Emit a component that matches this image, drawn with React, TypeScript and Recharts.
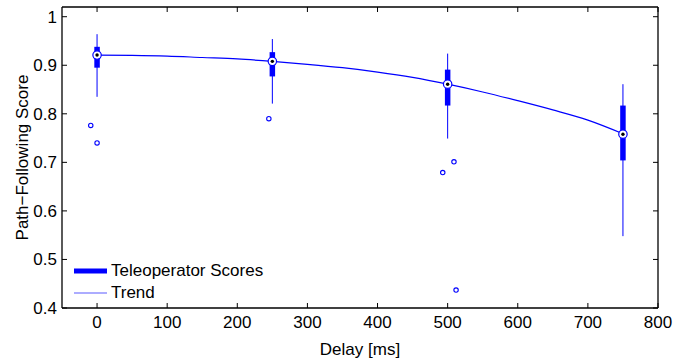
import React from 'react';
import {
  ComposedChart,
  XAxis,
  YAxis,
  Line,
  Scatter,
  ReferenceLine,
  Legend,
} from 'recharts';

// ---- data ----
const delays = [0, 250, 500, 750];
const whiskerLow = [0.835, 0.821, 0.749, 0.548];
const q1 = [0.895, 0.877, 0.817, 0.704];
const medians = [0.921, 0.908, 0.861, 0.758];
const q3 = [0.938, 0.927, 0.891, 0.817];
const whiskerHigh = [0.964, 0.954, 0.924, 0.861];

const outlierX = [-9, 0, 245, 493, 509, 512];
const outlierY = [0.776, 0.74, 0.79, 0.679, 0.701, 0.437];

const trendX = [0, 50, 100, 150, 200, 250, 300, 350, 400, 450, 500, 550, 600, 650, 700, 750];
const trendY = [0.921, 0.9205, 0.919, 0.916, 0.913, 0.908, 0.902, 0.895, 0.886, 0.875, 0.861, 0.845, 0.827, 0.808, 0.787, 0.759];

const xTicks = [0, 100, 200, 300, 400, 500, 600, 700, 800];
const yTicks = [0.4, 0.5, 0.6, 0.7, 0.8, 0.9, 1];
const legendLabels = ['Teleoperator Scores', 'Trend'];

const xLabel = 'Delay [ms]';
const yLabel = 'Path\u2212Following Score';

// ---- derived tables ----
const trendData = trendX.map((x, i) => ({ x, y: trendY[i] }));
const medianData = delays.map((x, i) => ({ x, y: medians[i] }));
const outlierData = outlierX.map((x, i) => ({ x, y: outlierY[i] }));

const BLUE = '#0000ff';
const FONT = '"Liberation Sans", Arial, Helvetica, sans-serif';
const FS = 17;
const tickStyle = { fontFamily: FONT, fontSize: FS, fill: '#000' };

const MedianShape = (props: any) => {
  const { cx, cy } = props;
  if (cx == null || cy == null) return null;
  return (
    <g>
      <circle cx={cx} cy={cy} r={4.2} fill="#fff" stroke={BLUE} strokeWidth={1.2} />
      <circle cx={cx} cy={cy} r={1.7} fill="#000" />
    </g>
  );
};

const OutlierShape = (props: any) => {
  const { cx, cy } = props;
  if (cx == null || cy == null) return null;
  return <circle cx={cx} cy={cy} r={2.2} fill="#fff" stroke={BLUE} strokeWidth={1.1} />;
};

const LegendContent = () => (
  <div style={{ fontFamily: FONT, fontSize: FS, color: '#000', lineHeight: '22px' }}>
    {legendLabels.map((label, i) => (
      <div key={label} style={{ display: 'flex', alignItems: 'center', height: 22 }}>
        <svg width={37} height={10} style={{ display: 'block' }}>
          <line
            x1={0}
            x2={33}
            y1={5}
            y2={5}
            stroke={i === 0 ? BLUE : '#5a5aff'}
            strokeWidth={i === 0 ? 5 : 1.2}
          />
        </svg>
        <span>{label}</span>
      </div>
    ))}
  </div>
);

const axisLineStyle = { stroke: '#000', strokeWidth: 1.3 };
const tickLineStyle = { stroke: '#000', strokeWidth: 1 };

export default function App() {
  return (
    <div style={{ position: 'absolute', left: 0, top: 0, width: 689, height: 360, background: '#fff' }}>
      <ComposedChart
        width={689}
        height={360}
        margin={{ top: 6, right: 30, bottom: 0, left: 0 }}
      >
        <XAxis
          xAxisId={0}
          dataKey="x"
          type="number"
          domain={[-50, 800]}
          ticks={xTicks}
          allowDataOverflow
          height={52}
          tick={tickStyle}
          tickSize={-5}
          tickMargin={13}
          axisLine={axisLineStyle}
          tickLine={tickLineStyle}
          label={{
            content: (p: any) => {
              const vb = p.viewBox || {};
              return (
                <text
                  x={vb.x + vb.width / 2}
                  y={vb.y + 47}
                  textAnchor="middle"
                  style={{ fontFamily: FONT, fontSize: FS, fill: '#000' }}
                >
                  {xLabel}
                </text>
              );
            },
          }}
        />
        <XAxis
          xAxisId="top"
          dataKey="x"
          type="number"
          orientation="top"
          domain={[-50, 800]}
          ticks={xTicks}
          allowDataOverflow
          height={1}
          tickFormatter={() => ''}
          tickSize={-5}
          tickMargin={0}
          axisLine={axisLineStyle}
          tickLine={tickLineStyle}
        />
        <YAxis
          yAxisId={0}
          dataKey="y"
          type="number"
          domain={[0.4, 1.02]}
          ticks={yTicks}
          allowDataOverflow
          width={62}
          tick={tickStyle}
          tickFormatter={(v: number) => String(v)}
          tickSize={-5}
          tickMargin={10}
          axisLine={axisLineStyle}
          tickLine={tickLineStyle}
          label={{
            content: (p: any) => {
              const vb = p.viewBox || {};
              const cx = 22;
              const cy = vb.y + vb.height / 2;
              return (
                <text
                  x={cx}
                  y={cy}
                  textAnchor="middle"
                  dominantBaseline="central"
                  transform={`rotate(-90, ${cx}, ${cy})`}
                  style={{ fontFamily: FONT, fontSize: FS, fill: '#000' }}
                >
                  {yLabel}
                </text>
              );
            },
          }}
        />
        <YAxis
          yAxisId="right"
          dataKey="y"
          type="number"
          orientation="right"
          domain={[0.4, 1.02]}
          ticks={yTicks}
          allowDataOverflow
          width={1}
          tickFormatter={() => ''}
          tickSize={-5}
          tickMargin={0}
          axisLine={axisLineStyle}
          tickLine={tickLineStyle}
        />

        {delays.map((d, i) => (
          <ReferenceLine
            key={`w${i}`}
            xAxisId={0}
            yAxisId={0}
            segment={[
              { x: d, y: whiskerLow[i] },
              { x: d, y: whiskerHigh[i] },
            ]}
            stroke={BLUE}
            strokeWidth={1}
          />
        ))}
        {delays.map((d, i) => (
          <ReferenceLine
            key={`b${i}`}
            xAxisId={0}
            yAxisId={0}
            segment={[
              { x: d, y: q1[i] },
              { x: d, y: q3[i] },
            ]}
            stroke={BLUE}
            strokeWidth={5.5}
          />
        ))}

        <Line
          xAxisId={0}
          yAxisId={0}
          data={trendData}
          dataKey="y"
          type="monotone"
          stroke={BLUE}
          strokeWidth={1.2}
          dot={false}
          activeDot={false}
          isAnimationActive={false}
        />
        <Scatter
          xAxisId={0}
          yAxisId={0}
          data={medianData}
          dataKey="y"
          shape={<MedianShape />}
          isAnimationActive={false}
        />
        <Scatter
          xAxisId={0}
          yAxisId={0}
          data={outlierData}
          dataKey="y"
          shape={<OutlierShape />}
          isAnimationActive={false}
        />

        <Legend
          layout="horizontal"
          verticalAlign="middle"
          align="center"
          content={<LegendContent />}
          wrapperStyle={{ position: 'absolute', left: 74, top: 260, width: 'auto' }}
        />
      </ComposedChart>
    </div>
  );
}
